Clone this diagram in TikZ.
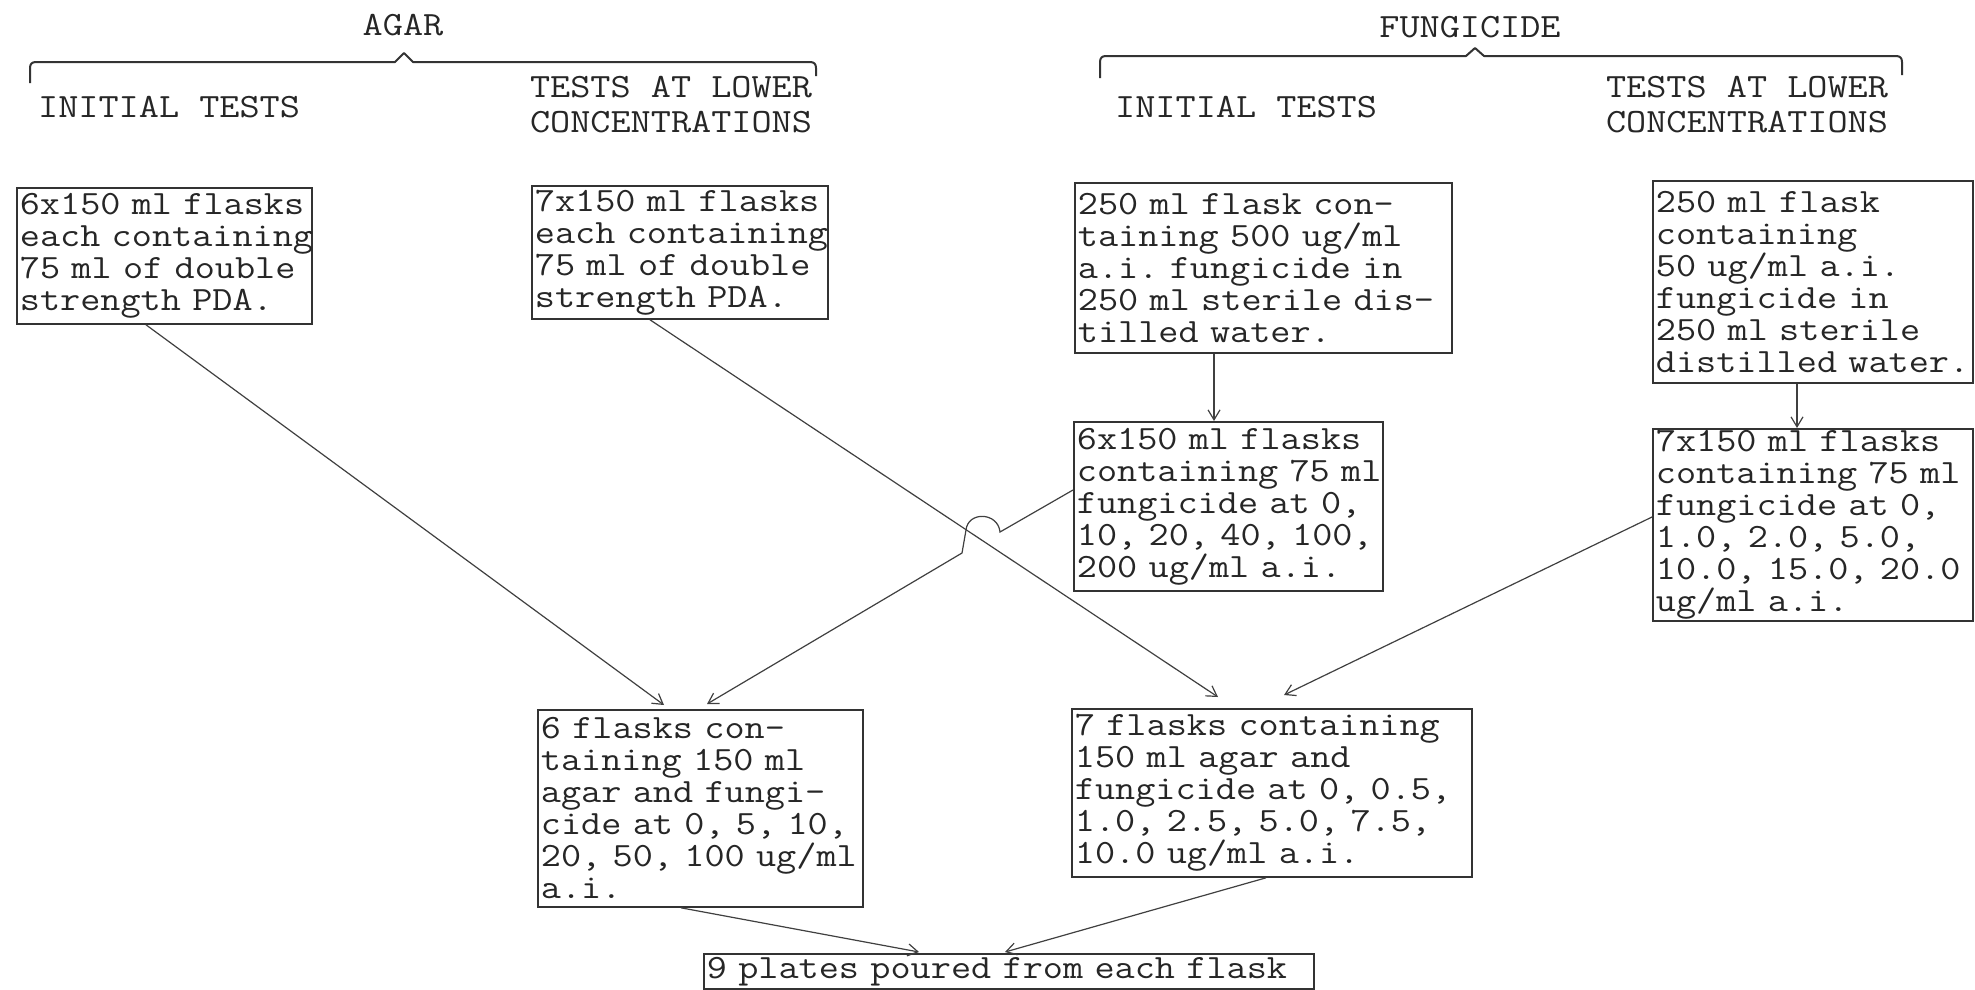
\documentclass[tikz,border=0pt]{standalone}
\usepackage{fontspec}
\newfontfamily\tyw[FakeStretch=1.15]{Latin Modern Mono}
\newcommand{\nohyphx}{\hyphenpenalty=10000 \exhyphenpenalty=10000\relax}
\usetikzlibrary{arrows.meta}
\tikzset{
  tw/.style={font=\tyw\fontsize{34}{32}\selectfont, execute at begin node=\nohyphx, text=black!85},
  flbox/.style={tw, draw=black!80, line width=1.8pt, anchor=north west, align=left, inner xsep=3pt, inner ysep=0pt},
  hdr/.style={font=\tyw\fontsize{34}{35}\selectfont, text=black!85, inner sep=0pt, align=center},
  conn/.style={draw=black!75, line width=1.2pt, -{Straight Barb[length=10pt,width=12pt]}},
  bracket/.style={draw=black!80, line width=2pt, line join=round}
}
\begin{document}
\begin{tikzpicture}[x=1pt,y=-1pt]
\useasboundingbox[fill=white] (0,0) rectangle (1975,989);

% headers
\node[hdr] (agar) at (403,25) {AGAR};
\node[hdr, anchor=west] (itA) at (38,107) {INITIAL TESTS};
\node[hdr] (ltA) at (671,105) {TESTS AT LOWER\\CONCENTRATIONS};
\node[hdr] (fung) at (1470,27) {FUNGICIDE};
\node[hdr, anchor=west] (itF) at (1115,107) {INITIAL TESTS};
\node[hdr] (ltF) at (1747,105) {TESTS AT LOWER\\CONCENTRATIONS};

\draw[bracket] (30,83) -- (30,68) .. controls (30,64) and (32,62) .. (36,62) -- (395,62) -- (404,53) -- (413,62) -- (810,62) .. controls (814,62) and (816,64) .. (816,68) -- (816,76);
\draw[bracket] (1100,78) -- (1100,62) .. controls (1100,58) and (1102,56) .. (1106,56) -- (1466,56) -- (1475,48) -- (1484,56) -- (1896,56) .. controls (1900,56) and (1902,58) .. (1902,62) -- (1902,75);

% boxes
\node[flbox, text width=289pt, minimum height=136pt] (A1) at (16,187)
  {6x150~ml~flasks\\each~containing\\75~ml~of~double\\strength~PDA.};
\node[flbox, text width=290pt, minimum height=133pt] (A2) at (531,185)
  {7x150~ml~flasks\\each~containing\\75~ml~of~double\\strength~PDA.};
\node[flbox, text width=371pt, minimum height=170pt] (F1) at (1074,182)
  {250~ml~flask~con-\\taining~500~ug/ml\\a.i.~fungicide~in\\250~ml~sterile~dis-\\tilled~water.};
\node[flbox, text width=314pt, minimum height=202pt] (F2) at (1652,180)
  {250~ml~flask\\containing\\50~ug/ml~a.i.\\fungicide~in\\250~ml~sterile\\distilled~water.};
\node[flbox, text width=303pt, minimum height=169pt] (F3) at (1073,421)
  {6x150~ml~flasks\\containing~75~ml\\fungicide~at~0,\\10,~20,~40,~100,\\200~ug/ml~a.i.};
\node[flbox, text width=314pt, minimum height=192pt] (F4) at (1652,428)
  {7x150~ml~flasks\\containing~75~ml\\fungicide~at~0,\\1.0,~2.0,~5.0,\\10.0,~15.0,~20.0\\ug/ml~a.i.};
\node[flbox, text width=319pt, minimum height=197pt] (M1) at (537,709)
  {6~flasks~con-\\taining~150~ml\\agar~and~fungi-\\cide~at~0,~5,~10,\\20,~50,~100~ug/ml\\a.i.};
\node[flbox, text width=394pt, minimum height=168pt] (M2) at (1071,708)
  {7~flasks~containing\\150~ml~agar~and\\fungicide~at~0,~0.5,\\1.0,~2.5,~5.0,~7.5,\\10.0~ug/ml~a.i.};
\node[flbox, text width=604pt, minimum height=35pt] (B) at (703,953)
  {9~plates~poured~from~each~flask};

% hop coordinates
\coordinate (hopR) at (1000,532);
\coordinate (hopL) at (966,530);
\coordinate (hopD) at (962,553);

% connectors
\draw[conn] ([xshift=130pt]A1.south west) -- ([xshift=127pt,yshift=4pt]M1.north west);
\draw[conn] ([xshift=119pt]A2.south west) -- ([xshift=147pt,yshift=11pt]M2.north west);
\draw[conn] ([xshift=140pt]F1.south west) -- ([xshift=141pt]F3.north west);
\draw[conn] ([yshift=-69pt]F3.north west) -- (hopR) .. controls (998,512) and (968,511) .. (hopL) -- (hopD) -- ([xshift=170pt,yshift=5pt]M1.north west);
\draw[conn] ([xshift=145pt]F2.south west) -- ([xshift=145pt]F4.north west);
\draw[conn] ([yshift=-89pt]F4.north west) -- ([xshift=213pt,yshift=13pt]M2.north west);
\draw[conn] ([xshift=144pt]M1.south west) -- ([xshift=216pt,yshift=1pt]B.north west);
\draw[conn] ([xshift=195pt]M2.south west) -- ([xshift=302pt,yshift=1pt]B.north west);
\end{tikzpicture}
\end{document}
